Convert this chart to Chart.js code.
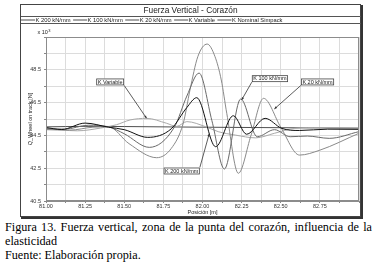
<!DOCTYPE html>
<html><head><meta charset="utf-8">
<script src="https://cdn.jsdelivr.net/npm/chart.js@4/dist/chart.umd.min.js"></script>
<style>
html,body{margin:0;padding:0;background:#fff;width:377px;height:265px;overflow:hidden;}
#wrap{position:relative;width:377px;height:265px;}
canvas{position:absolute;left:0;top:0;}
#cap{position:absolute;left:5px;top:221px;width:367px;font-family:"Liberation Serif","Times New Roman",serif;font-size:12.2px;line-height:13.9px;color:#000;text-align:justify;}
</style></head><body>
<div id="wrap"><canvas id="c" width="377" height="220"></canvas>
<div id="cap">Figura 13. Fuerza vertical, zona de la punta del corazón, influencia de la elasticidad<br>Fuente: Elaboración propia.</div></div>
<script>
// ---- data (x10^3 N vs position m) ----
const seriesNames = ['K 200 kN/mm','K 100 kN/mm','K 20 kN/mm','K Variable','K Nominal Simpack'];

const k200X = [81.00,81.10,81.25,81.40,81.50,81.65,81.80,81.90,81.963,82.084,82.197,82.282,82.40,82.506,82.62,82.80,83.00];
const k200Y = [44.98,44.86,45.25,45.00,44.85,44.38,44.90,46.20,46.80,43.81,45.70,44.57,45.54,44.93,44.80,44.88,44.87];

const k100X = [81.00,81.12,81.27,81.40,81.50,81.66,81.82,81.90,81.978,82.06,82.14,82.244,82.35,82.46,82.56,82.67,82.81,83.00];
const k100Y = [44.90,44.88,45.12,45.02,44.60,43.77,45.00,46.90,48.30,45.40,42.45,46.72,44.42,44.85,44.42,44.46,44.32,44.73];

const k20X = [81.00,81.15,81.30,81.40,81.53,81.707,81.80,81.877,81.92,81.97,82.03,82.08,82.12,82.155,82.229,82.31,82.39,82.50,82.62,82.75,83.00];
const k20Y = [44.85,44.82,45.00,45.02,44.00,43.14,43.70,45.24,47.27,49.30,50.07,49.30,47.88,45.85,42.19,44.50,46.76,45.00,43.30,43.60,44.63];

const kVarX = [81.00,81.20,81.35,81.45,81.537,81.643,81.77,81.835,81.90,82.02,82.10,82.21,82.34,82.46,82.59,82.75,83.00];
const kVarY = [44.92,44.78,44.95,45.15,45.44,45.54,45.24,45.05,45.34,45.03,44.73,44.52,44.35,44.63,44.93,44.98,44.95];

const kNomX = [81.00,81.25,81.50,82.00,82.50,83.00];
const kNomY = [45.02,45.05,45.04,45.00,44.97,44.94];

const xGridValues = [81,81.125,81.25,81.375,81.5,81.625,81.75,81.875,82,82.125,82.25,82.375,82.5,82.625,82.75,82.875,83];
const xLabelValues = [81,81.25,81.5,81.75,82,82.25,82.5,82.75];
const xTickLabels = ['81.00','81.25','81.50','81.75','82.00','82.25','82.50','82.75'];
const yGridValues = [40.5,41.5,42.5,43.5,44.5,45.5,46.5,47.5,48.5,49.5,50.5];
const yTickLabels = ['40.5','42.5','44.5','46.5','48.5'];

const chartTitle = 'Fuerza Vertical - Corazón';
const xTitle = 'Posición [m]';
const yTitle = 'Q_Wheel on track [N]';

// ---- styles ----
const colors = ['#111111','#6a6a6a','#8a8a8a','#a9a9a9','#505050'];
const seriesX = [k200X,k100X,k20X,kVarX,kNomX];
const seriesY = [k200Y,k100Y,k20Y,kVarY,kNomY];

const callouts = [
  {text:'K Variable',  bx:81.41, by:47.76, tx:81.643, ty:45.54},
  {text:'K 200 kN/mm', bx:81.867,by:42.33, tx:82.043, ty:44.60},
  {text:'K 100 kN/mm', bx:82.431,by:47.96, tx:82.250, ty:46.66},
  {text:'K 20 kN/mm',  bx:82.735,by:47.76, tx:82.459, ty:46.11}
];

const FONT = '"Liberation Sans", Arial, sans-serif';

const datasets = seriesNames.map((n,i)=>({
  label:n,
  data: seriesX[i].map((x,j)=>({x:x,y:seriesY[i][j]})),
  borderColor: colors[i], borderWidth: 1, pointRadius: 0,
  cubicInterpolationMode: 'monotone', fill:false
}));

const framePlugin = {
  id:'frame',
  beforeDraw(chart){
    const c = chart.ctx;
    c.save();
    c.fillStyle='#fff'; c.fillRect(0,0,chart.width,chart.height);
    c.restore();
  },
  afterDatasetsDraw(chart){
    const c = chart.ctx, xs = chart.scales.x, ys = chart.scales.y, a = chart.chartArea;
    c.save();
    // plot border
    c.strokeStyle='#8c8c8c'; c.lineWidth=1;
    c.strokeRect(Math.round(a.left)+0.5, Math.round(a.top)+0.5, Math.round(a.right-a.left)-1, Math.round(a.bottom-a.top)-1);
    // callouts
    c.font = '5.5px '+FONT;
    c.textBaseline='middle'; c.textAlign='center';
    callouts.forEach(co=>{
      const cx = xs.getPixelForValue(co.bx), cy = ys.getPixelForValue(co.by);
      const tw = c.measureText(co.text).width + 3, th = 7;
      const l = cx - tw/2, t = cy - th/2;
      const tx = xs.getPixelForValue(co.tx), ty = ys.getPixelForValue(co.ty);
      const sx = tx > cx ? l+tw : l, sy = ty > cy ? t+th : t;
      c.strokeStyle='#333'; c.lineWidth=0.8;
      c.beginPath(); c.moveTo(sx,sy); c.lineTo(tx,ty); c.stroke();
      const ang = Math.atan2(ty-sy, tx-sx);
      c.fillStyle='#333';
      c.beginPath(); c.moveTo(tx,ty);
      c.lineTo(tx-3*Math.cos(ang-0.4), ty-3*Math.sin(ang-0.4));
      c.lineTo(tx-3*Math.cos(ang+0.4), ty-3*Math.sin(ang+0.4));
      c.closePath(); c.fill();
      c.fillStyle='#fff'; c.fillRect(l,t,tw,th);
      c.strokeStyle='#444'; c.lineWidth=0.8; c.strokeRect(l+0.5,t+0.5,tw-1,th-1);
      c.fillStyle='#222'; c.fillText(co.text, cx, cy+0.3);
    });
    c.restore();
  },
  afterDraw(chart){
    const c = chart.ctx;
    c.save();
    // outer frame
    c.strokeStyle='#444'; c.lineWidth=1;
    c.strokeRect(20.5,4.5,340,212);
    c.strokeStyle='#333'; c.lineWidth=2;
    c.beginPath(); c.moveTo(362,5); c.lineTo(362,218); c.lineTo(21,218); c.stroke();
    // title row & legend row separators
    c.strokeStyle='#555'; c.lineWidth=1;
    c.beginPath(); c.moveTo(21,16.5); c.lineTo(361,16.5); c.moveTo(21,23.5); c.lineTo(361,23.5); c.stroke();
    // title
    c.fillStyle='#222'; c.font='8.3px '+FONT; c.textAlign='center'; c.textBaseline='middle';
    c.fillText(chartTitle, 190.5, 10.3);
    // legend
    c.font='5.8px '+FONT; c.textAlign='left';
    let x = 21;
    seriesNames.forEach((n,i)=>{
      c.strokeStyle='#222'; c.lineWidth=0.8;
      c.beginPath(); c.moveTo(x,20); c.lineTo(x+14,20); c.stroke();
      x += 14.5;
      c.fillStyle='#222'; c.fillText(n, x, 20.2);
      x += c.measureText(n).width + 2.5;
    });
    // x 10^3
    c.font='5.5px '+FONT; c.fillText('x 10', 37.5, 32.5);
    c.font='4px '+FONT; c.fillText('3', 48.3, 30.5);
    // axis titles
    const a = chart.chartArea;
    c.font='5.5px '+FONT; c.textAlign='center';
    c.fillText(xTitle, (a.left+a.right)/2, 212);
    c.translate(30, (a.top+a.bottom)/2);
    c.rotate(-Math.PI/2);
    c.fillText(yTitle, 0, 0);
    c.restore();
  }
};

new Chart(document.getElementById('c'), {
  type:'line',
  data:{datasets:datasets},
  plugins:[framePlugin],
  options:{
    responsive:false, animation:false, devicePixelRatio:1,
    layout:{padding:{left:0,top:37,right:18,bottom:0}},
    plugins:{legend:{display:false}, title:{display:false}, tooltip:{enabled:false}},
    scales:{
      x:{type:'linear', min:81, max:83,
        afterBuildTicks:(s)=>{ s.ticks = xGridValues.map(v=>({value:v})); },
        afterFit:(s)=>{ s.height = 19; },
        ticks:{autoSkip:false, maxRotation:0, padding:0, color:'#333', font:{size:5.5, family:FONT},
          callback:(v)=>{ const i = xLabelValues.findIndex(q=>Math.abs(q-v)<1e-6); return i>=0 ? xTickLabels[i] : ''; }},
        grid:{color:'#dcdcdc', lineWidth:1, tickLength:2, tickColor:'#888'},
        border:{color:'#8c8c8c'}
      },
      y:{type:'linear', min:40.5, max:50.5,
        afterBuildTicks:(s)=>{ s.ticks = yGridValues.map(v=>({value:v})); },
        afterFit:(s)=>{ s.width = 46; },
        ticks:{autoSkip:false, padding:3, color:'#333', font:{size:5.5, family:FONT},
          callback:(v)=>{ const t = v.toFixed(1); return yTickLabels.includes(t) ? t : ''; }},
        grid:{color:'#dcdcdc', lineWidth:1, tickLength:2, tickColor:'#888'},
        border:{color:'#8c8c8c'}
      }
    }
  }
});
</script>
</body></html>
